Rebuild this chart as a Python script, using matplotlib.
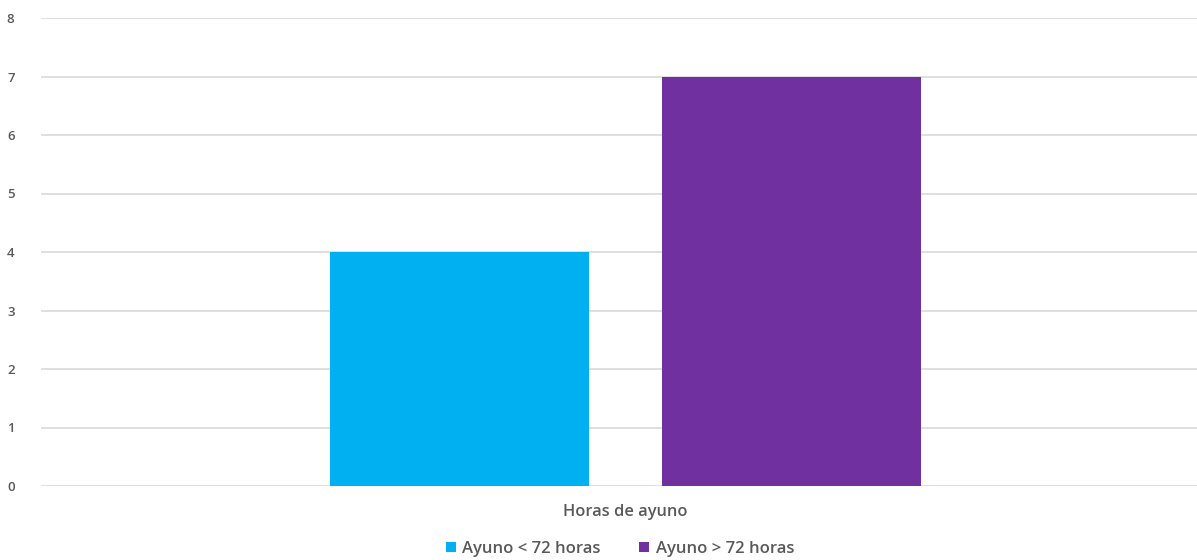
import matplotlib.pyplot as plt
import numpy as np

# Data
category = "Horas de ayuno"
series_names = ["Ayuno < 72 horas", "Ayuno > 72 horas"]
series_values = [4, 7]
series_colors = ["#00B0F0", "#7030A0"]
y_ticks = list(range(0, 9))

plt.rcParams['font.family'] = ['Open Sans', 'DejaVu Sans']

fig = plt.figure(figsize=(11.97, 5.6), dpi=100)
# axes extend slightly past the right edge, like the source
ax = fig.add_axes([41 / 1197, 1 - 486 / 560, 1169 / 1197, (486 - 18) / 560])

bar_width = 0.2216
offsets = [-0.142, 0.142]
for name, val, col, off in zip(series_names, series_values, series_colors, offsets):
    ax.bar(off, val, bar_width, color=col, label=name, zorder=3)

ax.set_xlim(-0.5, 0.5)
ax.set_ylim(0, 8)
ax.set_yticks(y_ticks)
ax.set_xticks([])
ax.grid(axis='y', color='#D9D9D9', linewidth=1.2, zorder=0)
for s in ax.spines.values():
    s.set_visible(False)
ax.tick_params(axis='y', length=0, labelsize=9.5, labelcolor='#595959', pad=19)
for lbl in ax.get_yticklabels():
    lbl.set_fontweight('semibold')

fig.text(625.5 / 1197, 1 - 512 / 560, category, ha='center', va='center',
         fontsize=11.8, color='#595959', fontweight='semibold')

handles, labels = ax.get_legend_handles_labels()
leg = fig.legend(handles, labels, loc='center', bbox_to_anchor=(620 / 1197, 1 - 549 / 560),
                 ncol=2, frameon=False, fontsize=12, labelcolor='#595959',
                 handlelength=0.6, handleheight=0.6, handletextpad=0.4, columnspacing=2.3)
for t in leg.get_texts():
    t.set_fontweight('semibold')

fig.savefig("out.png", dpi=100)
